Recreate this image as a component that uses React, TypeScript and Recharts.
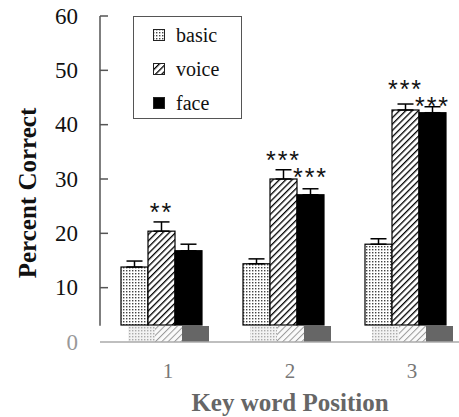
import React from 'react';
import { BarChart, Bar, XAxis, YAxis, ErrorBar, LabelList, Legend } from 'recharts';

const positions = ['1', '2', '3'];
const basic = [13.8, 14.4, 18.0];
const basicErr = [1.1, 0.9, 1.0];
const voice = [20.4, 30.0, 42.7];
const voiceErr = [1.7, 1.7, 1.1];
const face = [16.8, 27.1, 42.2];
const faceErr = [1.2, 1.1, 1.1];
const voiceSig = ['**', '***', '***'];
const faceSig = ['', '***', '***'];
const yTicks = [0, 10, 20, 30, 40, 50, 60];

const data = positions.map((pos, i) => ({
  pos,
  basic: basic[i],
  basicErr: [0, basicErr[i]],
  voice: voice[i],
  voiceErr: [0, voiceErr[i]],
  face: face[i],
  faceErr: [0, faceErr[i]],
}));

// chart is laid out in page pixels, so drop the default body margin
document.body.style.margin = '0';

const SERIF = "'Liberation Serif', 'Times New Roman', 'DejaVu Serif', serif";
const SANS = "'Liberation Sans', Arial, sans-serif";
const PX_PER_UNIT = 326 / 60;
const CUT = 17;

// how far each star label sits above its error cap (px)
const voiceLift = [15, 15, 20];
const faceLift = [15, 17, 6];

const SERIES = [
  { key: 'basic', name: 'basic', fill: 'url(#dots)', ghost: 'url(#dotsLight)' },
  { key: 'voice', name: 'voice', fill: 'url(#hatch)', ghost: 'url(#hatchLight)' },
  { key: 'face', name: 'face', fill: '#000', ghost: '#666' },
];

// bar with the pasted-in lighter strip at the bottom, like the original figure
const makeShape = (ghost: string) => (props: any) => {
  const { x, y, width, height, fill } = props;
  const bottom = y + height;
  const top = bottom - CUT;
  return (
    <g>
      <rect x={x} y={y} width={width} height={Math.max(0, top - y)} fill={fill} stroke="#000" strokeWidth={1.2} />
      <rect x={x + 7} y={top + 1} width={width} height={CUT - 1} fill={ghost} />
    </g>
  );
};

const makeSig = (labels: string[], errs: number[], lifts: number[]) => (props: any) => {
  const { x, y, width, index } = props;
  const text = labels[index];
  if (!text) return null;
  const errTop = y - errs[index] * PX_PER_UNIT;
  return (
    <text
      x={x + width / 2}
      y={errTop - lifts[index] + 14}
      textAnchor="middle"
      fontSize={25}
      letterSpacing={2}
      fontFamily={SANS}
      fill="#111"
    >
      {text}
    </text>
  );
};

const YTick = (props: any) => {
  const { x, y, payload } = props;
  const isZero = payload.value === 0;
  return (
    <g>
      {payload.value === 60 && (
        <line x1={x} y1={y} x2={x} y2={y + 57 * PX_PER_UNIT} stroke="#555" strokeWidth={1.5} />
      )}
      {!isZero && <line x1={x} y1={y} x2={x + 8} y2={y} stroke="#555" strokeWidth={1.5} />}
      <text x={x - 22} y={y} textAnchor="end" dominantBaseline="central" fontSize={23} fontFamily={SERIF} fill={isZero ? '#999' : '#111'}>
        {payload.value}
      </text>
    </g>
  );
};

const XTick = (props: any) => {
  const { x, y, payload } = props;
  return (
    <text x={x + 7} y={y + 21} textAnchor="middle" dominantBaseline="central" fontSize={21} fontFamily={SERIF} fill="#777">
      {payload.value}
    </text>
  );
};

const renderLegend = () => (
  <div style={{ width: 107, height: 100, border: '1px solid #555', background: '#fff', paddingTop: 1, boxSizing: 'content-box' }}>
    {SERIES.map((s) => (
      <div key={s.key} style={{ height: 34, display: 'flex', alignItems: 'center', fontFamily: SERIF, fontSize: 20, color: '#111' }}>
        <svg width={12} height={12} style={{ marginLeft: 19, marginRight: 11 }}>
          <rect x={0.5} y={0.5} width={11} height={11} fill={s.fill} stroke="#222" strokeWidth={1} />
        </svg>
        <span style={{ fontFamily: SERIF }}>{s.name}</span>
      </div>
    ))}
  </div>
);

export default function App() {
  return (
    <div style={{ width: 459, height: 417, position: 'relative', overflow: 'hidden' }}>
      <BarChart
        width={459}
        height={417}
        data={data}
        margin={{ top: 16, right: 0, bottom: 0, left: 0 }}
        barCategoryGap={20}
        barGap={0}
      >
        <defs>
          <pattern id="dots" width="3" height="3" patternUnits="userSpaceOnUse">
            <rect width="3" height="3" fill="#fff" />
            <rect x="0" y="0" width="1.4" height="1.4" fill="#444" />
          </pattern>
          <pattern id="dotsLight" width="3" height="3" patternUnits="userSpaceOnUse">
            <rect width="3" height="3" fill="#f2f2f2" />
            <rect x="0" y="0" width="1.4" height="1.4" fill="#aaa" />
          </pattern>
          <pattern id="hatch" width="4.5" height="4.5" patternUnits="userSpaceOnUse" patternTransform="rotate(45)">
            <rect width="4.5" height="4.5" fill="#fff" />
            <line x1="0" y1="0" x2="0" y2="4.5" stroke="#000" strokeWidth="2.6" />
          </pattern>
          <pattern id="hatchLight" width="4.5" height="4.5" patternUnits="userSpaceOnUse" patternTransform="rotate(45)">
            <rect width="4.5" height="4.5" fill="#fafafa" />
            <line x1="0" y1="0" x2="0" y2="4.5" stroke="#999" strokeWidth="2" />
          </pattern>
        </defs>
        <XAxis
          dataKey="pos"
          height={75}
          padding={{ left: 0, right: -7 }}
          axisLine={{ stroke: '#aaa', strokeWidth: 1.5 }}
          tickLine={false}
          tick={<XTick />}
          label={{
            content: () => (
              <text x={290} y={402} textAnchor="middle" dominantBaseline="central" fontSize={25} fontWeight="bold" fontFamily={SERIF} fill="#666">
                Key word Position
              </text>
            ),
          }}
        />
        <YAxis
          domain={[0, 60]}
          ticks={yTicks}
          width={100}
          tickSize={0}
          tickMargin={0}
          axisLine={false}
          tickLine={false}
          tick={<YTick />}
          interval={0}
          label={{
            content: () => (
              <text x={27} y={193} transform="rotate(-90 27 193)" textAnchor="middle" dominantBaseline="central" fontSize={25} fontWeight="bold" fontFamily={SERIF} fill="#111">
                Percent Correct
              </text>
            ),
          }}
        />
        <Legend
          layout="vertical"
          align="center"
          verticalAlign="middle"
          content={renderLegend}
          wrapperStyle={{ position: 'absolute', left: 133, top: 16, width: 109, height: 102 }}
        />
        <Bar dataKey="basic" name="basic" fill="url(#dots)" barSize={27} isAnimationActive={false} shape={makeShape(SERIES[0].ghost)}>
          <ErrorBar dataKey="basicErr" width={8} stroke="#000" strokeWidth={1.5} direction="y" />
        </Bar>
        <Bar dataKey="voice" name="voice" fill="url(#hatch)" barSize={27} isAnimationActive={false} shape={makeShape(SERIES[1].ghost)}>
          <ErrorBar dataKey="voiceErr" width={8} stroke="#000" strokeWidth={1.5} direction="y" />
          <LabelList dataKey="voice" content={makeSig(voiceSig, voiceErr, voiceLift)} />
        </Bar>
        <Bar dataKey="face" name="face" fill="#000" barSize={27} isAnimationActive={false} shape={makeShape(SERIES[2].ghost)}>
          <ErrorBar dataKey="faceErr" width={8} stroke="#000" strokeWidth={1.5} direction="y" />
          <LabelList dataKey="face" content={makeSig(faceSig, faceErr, faceLift)} />
        </Bar>
      </BarChart>
    </div>
  );
}
